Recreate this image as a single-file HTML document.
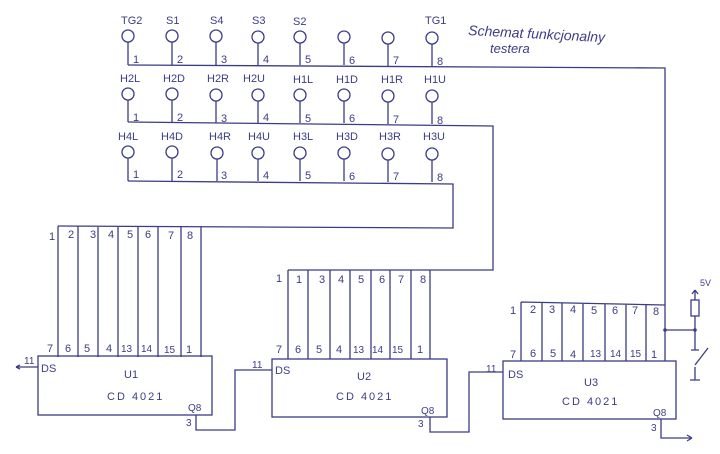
<!DOCTYPE html>
<html><head><meta charset="utf-8"><style>
body{margin:0;background:#fff}
svg{display:block}
text{font-family:"Liberation Sans",sans-serif;fill:#3c3c86;font-size:11px}
</style></head><body>
<svg width="720" height="454" viewBox="0 0 720 454" xmlns="http://www.w3.org/2000/svg">
<g stroke="#3c3c86" stroke-width="1.3" fill="none">
<!-- row 1 -->
<circle cx="128" cy="36" r="6"/><circle cx="172" cy="36" r="6"/><circle cx="216" cy="36" r="6"/><circle cx="258" cy="37" r="6"/><circle cx="300" cy="37" r="6"/><circle cx="344" cy="37" r="6"/><circle cx="388" cy="38" r="6"/><circle cx="432" cy="38" r="6"/>
<path d="M128 42V65M172 42V65M216 42V65M258 43V65M300 43V65M344 43V65M388 44V66M432 44V66"/>
<path d="M128 65L665 68V361"/>
<!-- row 2 -->
<circle cx="128" cy="94" r="6"/><circle cx="172" cy="94" r="6"/><circle cx="216" cy="95" r="6"/><circle cx="258" cy="95" r="6"/><circle cx="300" cy="95" r="6"/><circle cx="344" cy="95" r="6"/><circle cx="388" cy="96" r="6"/><circle cx="432" cy="96" r="6"/>
<path d="M128 100V122M172 100V122M216 101V123M258 101V123M300 101V123M344 101V123M388 102V124M432 102V124"/>
<path d="M128 122L493 126V270H288"/>
<!-- row 3 -->
<circle cx="128" cy="152" r="6"/><circle cx="172" cy="152" r="6"/><circle cx="217" cy="153" r="6"/><circle cx="258" cy="153" r="6"/><circle cx="300" cy="153" r="6"/><circle cx="344" cy="153" r="6"/><circle cx="388" cy="154" r="6"/><circle cx="432" cy="154" r="6"/>
<path d="M128 158V181M172 158V181M217 159V181M258 159V181M300 159V181M344 159V181M388 160V182M432 160V182"/>
<path d="M128 181L453 184V228L58 226"/>
<!-- U1 -->
<path d="M58 226V357M78 226V357M98 227V357M118 227V357M138 227V357M158 227V357M181 227V357M201 227V357"/>
<rect x="38" y="356" width="174" height="59"/>
<path d="M38 367H16M196 415V430H235V370H272"/>
<path d="M16 367l4-2M16 367l4 2"/>
<!-- U2 -->
<path d="M288 270V359M308 270V359M330 270V359M350 270V359M371 270V359M390 270V359M411 270V359M430 270V359"/>
<rect x="272" y="359" width="175" height="58"/>
<path d="M430 417V432H469V372H503"/>
<!-- U3 -->
<path d="M521 302L665 305M521 302V361M542 303V361M562 303V361M583 303V361M605 304V361M626 304V361M646 304V361"/>
<rect x="503" y="361" width="173" height="58"/>
<path d="M661 419V438H692M692 438l-5-3M692 438l-5 3"/>
<!-- 5V -->
<path d="M665 330H695M695 290V300M695 316V350M691 350H699M695 290l-3 4M695 290l3 4"/>
<rect x="691" y="300" width="8" height="16"/>
<path d="M695 365l13-17M695 367V380M690 380H700"/>
</g>
<circle cx="665" cy="330" r="1.8" fill="#3c3c86"/>
<circle cx="695" cy="330" r="1.8" fill="#3c3c86"/>
<!-- row1 labels -->
<text x="121" y="24">TG2</text><text x="166" y="24">S1</text><text x="210" y="24">S4</text><text x="252" y="24">S3</text><text x="293" y="25">S2</text><text x="425" y="24">TG1</text>
<text x="133" y="63">1</text><text x="177" y="63">2</text><text x="221" y="63">3</text><text x="263" y="63">4</text><text x="305" y="63">5</text><text x="349" y="64">6</text><text x="393" y="64">7</text><text x="437" y="65">8</text>
<!-- row2 -->
<text x="120" y="82">H2L</text><text x="163" y="82">H2D</text><text x="207" y="82">H2R</text><text x="243" y="82">H2U</text><text x="293" y="83">H1L</text><text x="336" y="83">H1D</text><text x="381" y="83">H1R</text><text x="424" y="83">H1U</text>
<text x="133" y="121">1</text><text x="177" y="121">2</text><text x="221" y="122">3</text><text x="263" y="121">4</text><text x="305" y="122">5</text><text x="349" y="122">6</text><text x="393" y="123">7</text><text x="437" y="124">8</text>
<!-- row3 -->
<text x="118" y="140">H4L</text><text x="161" y="140">H4D</text><text x="209" y="140">H4R</text><text x="248" y="140">H4U</text><text x="293" y="140">H3L</text><text x="336" y="140">H3D</text><text x="379" y="140">H3R</text><text x="423" y="140">H3U</text>
<text x="133" y="178">1</text><text x="177" y="178">2</text><text x="221" y="179">3</text><text x="263" y="179">4</text><text x="305" y="179">5</text><text x="349" y="180">6</text><text x="393" y="180">7</text><text x="437" y="181">8</text>
<!-- title -->
<text x="468" y="35" style="font-size:14px;font-style:italic" transform="rotate(3 468 35)">Schemat funkcjonalny</text>
<text x="490" y="53" style="font-size:13px;font-style:italic">testera</text>
<!-- U1 labels -->
<text x="49" y="240">1</text><text x="68" y="238">2</text><text x="90" y="238">3</text><text x="108" y="238">4</text><text x="127" y="238">5</text><text x="145" y="238">6</text><text x="168" y="239">7</text><text x="187" y="239">8</text>
<text x="47" y="352">7</text><text x="65" y="352">6</text><text x="84" y="352">5</text><text x="106" y="352">4</text><text x="121" y="352" style="font-size:10px">13</text><text x="141" y="352" style="font-size:10px">14</text><text x="164" y="353" style="font-size:10px">15</text><text x="186" y="353">1</text>
<text x="24" y="364" style="font-size:10px">11</text><text x="41" y="372">DS</text>
<text x="124" y="378">U1</text><text x="107" y="400" style="letter-spacing:2px">CD 4021</text>
<text x="188" y="411" style="font-size:10px">Q8</text><text x="186" y="426" style="font-size:10px">3</text>
<!-- U2 labels -->
<text x="276" y="282">1</text><text x="296" y="283">1</text><text x="319" y="283">3</text><text x="338" y="283">4</text><text x="358" y="283">5</text><text x="379" y="283">6</text><text x="398" y="283">7</text><text x="420" y="283">8</text>
<text x="276" y="353">7</text><text x="295" y="353">6</text><text x="316" y="353">5</text><text x="336" y="353">4</text><text x="353" y="353" style="font-size:10px">13</text><text x="372" y="353" style="font-size:10px">14</text><text x="392" y="353" style="font-size:10px">15</text><text x="417" y="353">1</text>
<text x="252" y="368" style="font-size:10px">11</text><text x="275" y="374">DS</text>
<text x="357" y="380">U2</text><text x="336" y="400" style="letter-spacing:2px">CD 4021</text>
<text x="421" y="414" style="font-size:10px">Q8</text><text x="418" y="427" style="font-size:10px">3</text>
<!-- U3 labels -->
<text x="510" y="314">1</text><text x="530" y="313">2</text><text x="549" y="313">3</text><text x="570" y="313">4</text><text x="591" y="314">5</text><text x="612" y="314">6</text><text x="632" y="314">7</text><text x="653" y="315">8</text>
<text x="510" y="358">7</text><text x="530" y="357">6</text><text x="550" y="357">5</text><text x="570" y="358">4</text><text x="590" y="357" style="font-size:10px">13</text><text x="610" y="357" style="font-size:10px">14</text><text x="630" y="357" style="font-size:10px">15</text><text x="651" y="358">1</text>
<text x="486" y="372" style="font-size:10px">11</text><text x="508" y="378">DS</text>
<text x="584" y="386">U3</text><text x="562" y="405" style="letter-spacing:2px">CD 4021</text>
<text x="653" y="416" style="font-size:10px">Q8</text><text x="651" y="431" style="font-size:10px">3</text>
<text x="700" y="286" style="font-size:9px">5V</text>
</svg>
</body></html>
